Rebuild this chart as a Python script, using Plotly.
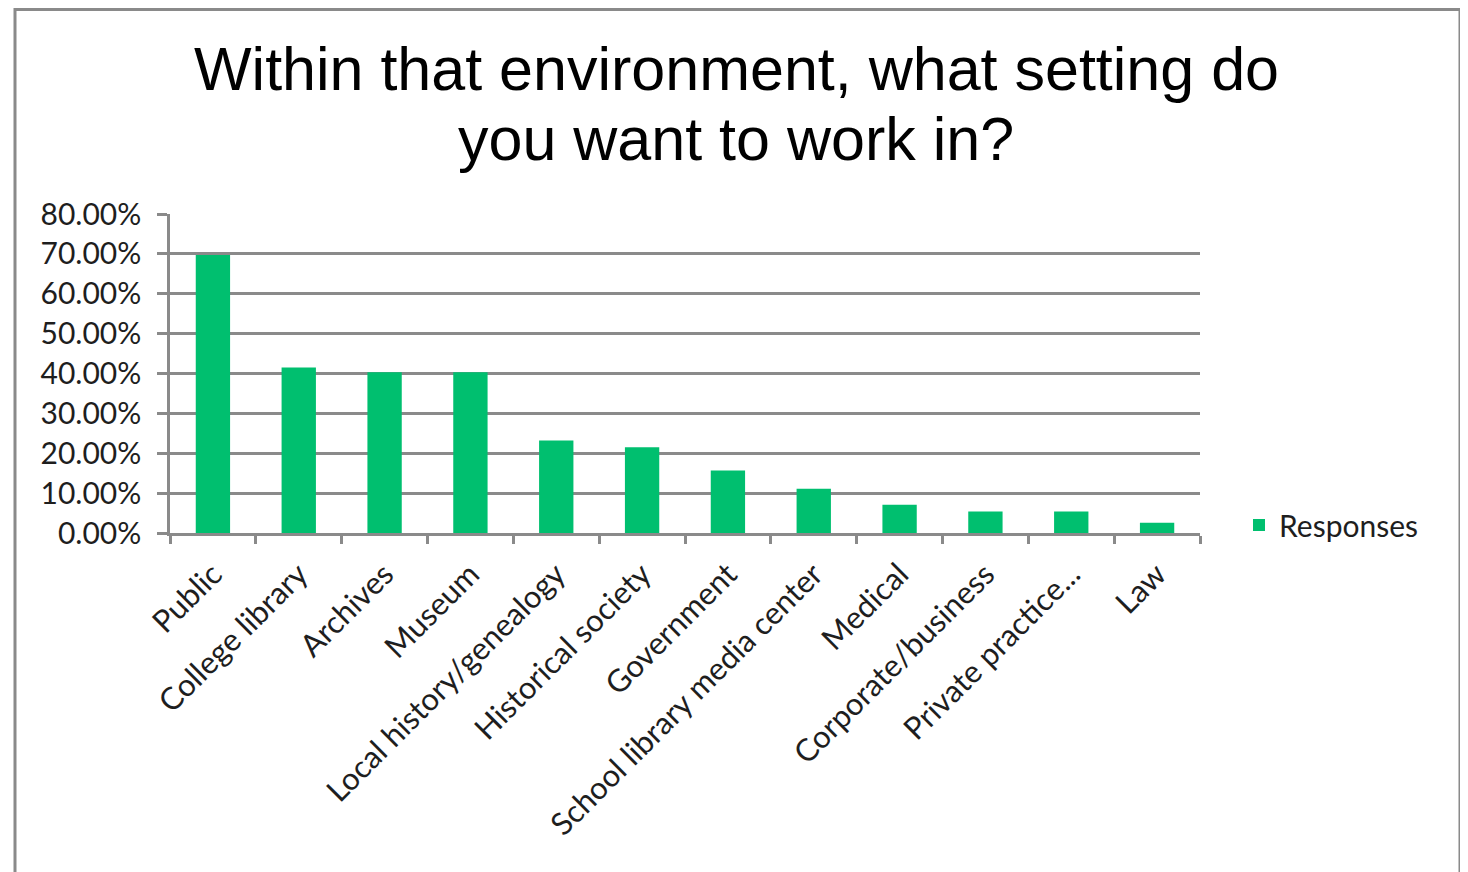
import plotly.graph_objects as go

categories = ["Public", "College library", "Archives", "Museum", "Local history/genealogy",
              "Historical society", "Government", "School library media center", "Medical",
              "Corporate/business", "Private practice...", "Law"]
values = [0.697, 0.415, 0.403, 0.403, 0.232, 0.215, 0.157, 0.111, 0.071, 0.054, 0.054, 0.026]
y_ticks = [0, 0.1, 0.2, 0.3, 0.4, 0.5, 0.6, 0.7, 0.8]
title_lines = ["Within that environment, what setting do", "you want to work in?"]

W, H = 1468, 872
OFF = 8  # page body offset
L, R, T, B = 170 - OFF, 1200 - OFF, 214 - OFF, 533 - OFF

def px_x(p):
    return (p - OFF - L) / (R - L)

def px_y(p):
    return (B - (p - OFF)) / (B - T)

fig = go.Figure()
fig.add_trace(go.Bar(x=categories, y=values, name="Responses", marker_color="#00BF6F",
                     marker_line_width=0, showlegend=True))

FONT = "Lato, Open Sans, sans-serif"
TXT = "#1e1e1e"

annotations = []
for line, cy in zip(title_lines, [69, 139]):
    annotations.append(dict(text=line, xref="paper", yref="paper", x=px_x(736), y=px_y(cy),
                            xanchor="center", yanchor="middle", showarrow=False,
                            font=dict(family="Liberation Sans, Arial", size=61, color="black")))

fig.update_layout(
    width=W, height=H,
    margin=dict(l=L, r=W - R, t=T, b=H - B),
    paper_bgcolor="white", plot_bgcolor="white",
    bargap=0.6,
    font=dict(family=FONT, size=30, color=TXT),
    showlegend=True,
    legend=dict(x=px_x(1239), xanchor="left", y=px_y(525), yanchor="middle",
                font=dict(family=FONT, size=30, color=TXT), itemwidth=30,
                bgcolor="rgba(0,0,0,0)"),
    xaxis=dict(tickangle=-45, showline=True, linecolor="#8a8a8a", linewidth=2.5,
               ticks="outside", tickson="boundaries", ticklen=8, tickcolor="#8a8a8a", tickwidth=2.5,
               ticklabelstandoff=8,
               showgrid=False, tickfont=dict(family=FONT, size=31, color=TXT)),
    yaxis=dict(range=[0, 0.8], tickvals=y_ticks, tickformat=".2%",
               showline=True, linecolor="#8a8a8a", linewidth=2.5,
               ticks="outside", ticklen=10, tickcolor="#8a8a8a", tickwidth=2.5,
               ticklabelstandoff=10,
               showgrid=True, gridcolor="#8a8a8a", gridwidth=2.5, zeroline=False,
               tickfont=dict(family=FONT, size=30, color=TXT)),
    annotations=annotations,
    shapes=[dict(type="rect", xref="paper", yref="paper",
                 x0=px_x(15), x1=px_x(1460), y0=px_y(H + 40), y1=px_y(9.5),
                 line=dict(color="#8a8a8a", width=3), fillcolor="rgba(0,0,0,0)", layer="below")],
)

fig.write_html("out.html")
